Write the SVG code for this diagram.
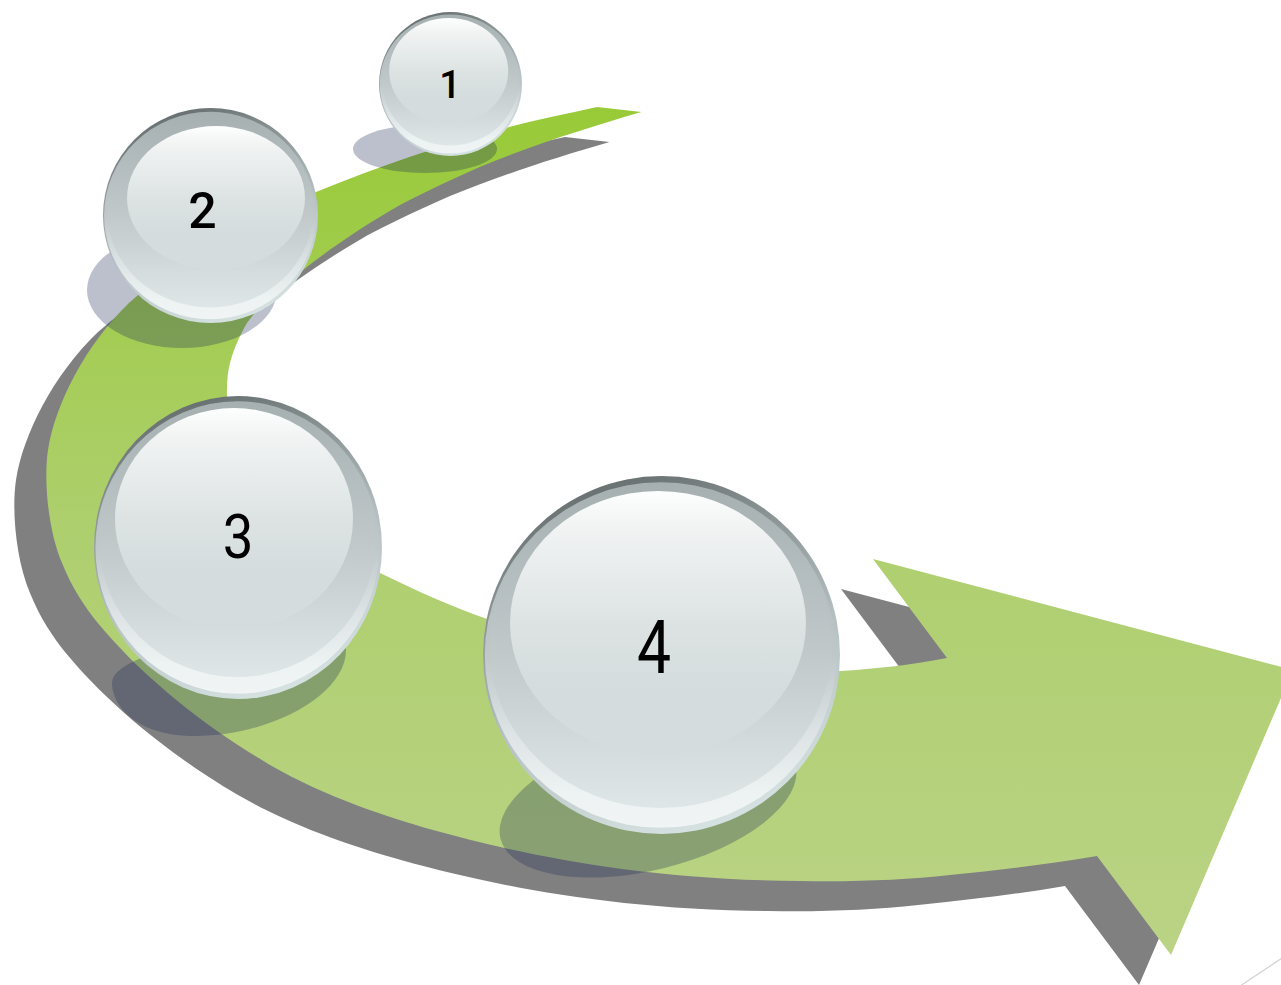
<svg xmlns="http://www.w3.org/2000/svg" width="1281" height="985" viewBox="0 0 1281 985">
  <style>
    .label { font-family: Roboto, "Liberation Sans", sans-serif; fill: #000; text-anchor: middle; }
    .ground { fill: #1f2d55; fill-opacity: 0.3; }
    .gloss { fill: url(#gloss); }
  </style>
  <defs>
    <linearGradient id="ribbon" gradientUnits="userSpaceOnUse" x1="0" y1="107" x2="0" y2="955">
      <stop offset="0" stop-color="#98ca37"/>
      <stop offset="0.5" stop-color="#aecf6e"/>
      <stop offset="1" stop-color="#bad385"/>
    </linearGradient>
    <linearGradient id="rim" x1="0.2" y1="0" x2="0.55" y2="1">
      <stop offset="0" stop-color="#5f6767"/>
      <stop offset="0.28" stop-color="#8a9394"/>
      <stop offset="0.6" stop-color="#b5c0c2"/>
      <stop offset="1" stop-color="#d5e0e0"/>
    </linearGradient>
    <linearGradient id="shell" x1="0" y1="0" x2="0" y2="1">
      <stop offset="0" stop-color="#a6b0b1"/>
      <stop offset="0.5" stop-color="#bfc7c9"/>
      <stop offset="0.72" stop-color="#dde3e4"/>
      <stop offset="0.9" stop-color="#edf2f3"/>
      <stop offset="1" stop-color="#f0f4f5"/>
    </linearGradient>
    <linearGradient id="core" x1="0" y1="0" x2="0" y2="1">
      <stop offset="0" stop-color="#a6b0b1"/>
      <stop offset="0.5" stop-color="#bfc7c9"/>
      <stop offset="0.67" stop-color="#cbd2d4"/>
      <stop offset="0.82" stop-color="#d5dcde"/>
      <stop offset="1" stop-color="#dfe6e7"/>
    </linearGradient>
    <linearGradient id="gloss" x1="0" y1="0" x2="0" y2="1">
      <stop offset="0" stop-color="#fdfefe"/>
      <stop offset="0.14" stop-color="#f1f3f3"/>
      <stop offset="0.5" stop-color="#dde3e3"/>
      <stop offset="0.75" stop-color="#d5dcdd"/>
      <stop offset="1" stop-color="#d5dcde"/>
    </linearGradient>
    <filter id="soft" x="-5%" y="-5%" width="110%" height="110%">
      <feGaussianBlur stdDeviation="0.7"/>
    </filter>
    <path id="arrow" d="M641.5,112 L597,107 C566,114 535,120 505,128 C440,145 378,167 316,192 C245,222 178,260 130,302 C85,345 55,405 48,450 C43.5,480 48,530 62,563 C72,588 85,607 97,622 C138,672 200,724 270,765 C325,797 390,818 433,830 C520,854 640,880 800,881 C855,882 905,880 950,875 C1000,870 1050,864 1097,856 L1171,955 L1293,670 L873,559 L947,658 C910,665 875,669 840,671 C720,680 600,662 490,620 C450,606 415,590 380,573 C320,535 227,470 227,395 C227,385 227,375 230,363 C234,348 240,335 247,323 C262,302 282,285 303,270 C335,245 365,225 400,205 C435,187 470,170 510,155 C555,138 600,124 641.5,112 Z"/>
    <g id="sphere">
      <ellipse cx="0" cy="0" rx="100" ry="100" fill="url(#rim)"/>
      <ellipse cx="-0.5" cy="0" rx="98.5" ry="96.5" fill="url(#shell)"/>
      <ellipse cx="-0.5" cy="-5" rx="96" ry="90.5" fill="url(#core)"/>
    </g>
  </defs>

  <!-- sweeping ribbon arrow with its cast shadow -->
  <g id="connectors">
    <use href="#arrow" transform="translate(-32,30)" fill="#808080" filter="url(#soft)"/>
    <use href="#arrow" fill="url(#ribbon)"/>
  </g>

  <g id="node-1">
    <ellipse class="ground" cx="425" cy="149" rx="72" ry="24"/>
    <use href="#sphere" transform="translate(450.5,84) scale(0.715,0.72)"/>
    <ellipse class="gloss" cx="448.7" cy="71" rx="59.5" ry="53"/>
    <text class="label" x="450" y="98" font-size="38" font-weight="500">1</text>
  </g>
  <g id="node-2">
    <ellipse class="ground" cx="182" cy="290" rx="95" ry="58"/>
    <use href="#sphere" transform="translate(210.5,215.5) scale(1.075,1.075)"/>
    <ellipse class="gloss" cx="216" cy="198" rx="89" ry="72"/>
    <text class="label" x="202.5" y="228" font-size="50" font-weight="500">2</text>
  </g>
  <g id="node-3">
    <path class="ground" d="M112,683 C112,705 135,736 195,736 C270,736 346,695 346,650 C346,620 112,640 112,683 Z"/>
    <use href="#sphere" transform="translate(238,547.5) scale(1.44,1.515)"/>
    <ellipse class="gloss" cx="234" cy="519" rx="119" ry="111"/>
    <text class="label" transform="translate(238,558) scale(0.88,1)" font-size="62">3</text>
  </g>
  <g id="node-4">
    <ellipse class="ground" cx="648" cy="802" rx="152" ry="68" transform="rotate(-14 648 802)"/>
    <use href="#sphere" transform="translate(661.5,655) scale(1.785,1.79)"/>
    <ellipse class="gloss" cx="658" cy="623" rx="148" ry="132"/>
    <text class="label" transform="translate(654,673) scale(0.82,1)" font-size="74">4</text>
  </g>

  <line x1="1240" y1="986" x2="1282" y2="958" stroke="#d2d2d2" stroke-width="1.2"/>
</svg>
